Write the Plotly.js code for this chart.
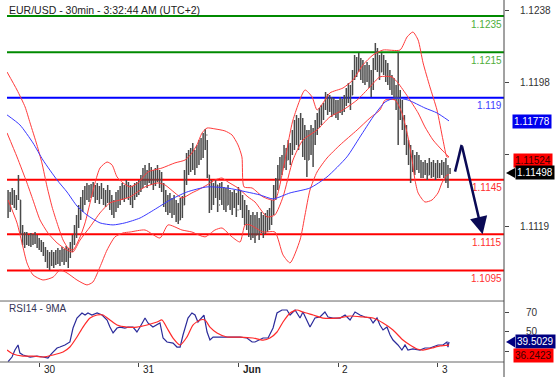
<!DOCTYPE html>
<html><head><meta charset="utf-8">
<script src="https://cdn.plot.ly/plotly-3.0.1.min.js"></script>
<style>html,body{margin:0;padding:0;background:#fff}</style>
</head><body><div id="chart" style="width:558px;height:377px"></div>
<script>
// ---- price bars (30 min), bar index = position ----
const high = [1.11421,1.11393,1.11382,1.11404,1.11393,1.11366,1.11476,1.11338,1.11201,1.11162,
1.11162,1.11146,1.11157,1.11151,1.11162,1.11146,1.11129,1.11118,1.11107,1.11080,
1.11063,1.11052,1.11063,1.11052,1.11063,1.11074,1.11063,1.11080,1.11069,1.11085,
1.11074,1.11107,1.11146,1.11201,1.11256,1.11311,1.11355,1.11393,1.11415,1.11432,
1.11421,1.11426,1.11437,1.11421,1.11432,1.11415,1.11432,1.11404,1.11393,1.11421,
1.11393,1.11366,1.11338,1.11382,1.11393,1.11415,1.11432,1.11421,1.11448,1.11437,
1.11421,1.11415,1.11432,1.11437,1.11448,1.11476,1.11514,1.11531,1.11503,1.11542,
1.11520,1.11503,1.11514,1.11531,1.11503,1.11492,1.11432,1.11393,1.11366,1.11377,
1.11349,1.11366,1.11338,1.11322,1.11349,1.11360,1.11503,1.11597,1.11613,1.11624,
1.11652,1.11613,1.11641,1.11668,1.11679,1.11707,1.11729,1.11668,1.11476,1.11448,
1.11432,1.11448,1.11421,1.11432,1.11437,1.11410,1.11404,1.11421,1.11393,1.11382,
1.11393,1.11377,1.11410,1.11393,1.11366,1.11338,1.11311,1.11283,1.11256,1.11272,
1.11256,1.11272,1.11239,1.11272,1.11256,1.11267,1.11283,1.11294,1.11338,1.11421,
1.11459,1.11531,1.11575,1.11586,1.11641,1.11624,1.11668,1.11652,1.11723,1.11778,
1.11806,1.11789,1.11817,1.11789,1.11751,1.11723,1.11723,1.11751,1.11734,1.11778,
1.11817,1.11844,1.11861,1.11872,1.11932,1.11921,1.11916,1.11905,1.11899,1.11888,
1.11888,1.11905,1.11894,1.11916,1.11954,1.11982,1.11971,1.12053,1.12136,1.12125,
1.12147,1.12119,1.12108,1.12081,1.12097,1.12081,1.12053,1.12119,1.12202,1.12174,
1.12136,1.12147,1.12136,1.12108,1.12092,1.12053,1.12026,1.12009,1.11971,1.12152,
1.11943,1.11888,1.11806,1.11751,1.11668,1.11641,1.11613,1.11586,1.11602,1.11586,
1.11558,1.11547,1.11558,1.11542,1.11569,1.11547,1.11558,1.11542,1.11558,1.11542,
1.11558,1.11547,1.11569,1.11531,1.11514];
const low = [1.11256,1.11239,1.11272,1.11311,1.11294,1.11283,1.11338,1.11146,1.11091,1.11074,
1.11091,1.11085,1.11080,1.11091,1.11096,1.11074,1.11063,1.11052,1.11030,1.10997,
1.10964,1.10953,1.10975,1.10964,1.10981,1.10986,1.10975,1.10997,1.10981,1.10997,
1.10964,1.11019,1.11052,1.11091,1.11129,1.11184,1.11228,1.11272,1.11311,1.11338,
1.11327,1.11349,1.11355,1.11322,1.11338,1.11316,1.11344,1.11311,1.11300,1.11322,
1.11283,1.11256,1.11239,1.11272,1.11294,1.11311,1.11338,1.11327,1.11349,1.11338,
1.11311,1.11294,1.11338,1.11355,1.11366,1.11382,1.11404,1.11421,1.11404,1.11432,
1.11421,1.11393,1.11415,1.11437,1.11404,1.11382,1.11300,1.11272,1.11256,1.11267,
1.11239,1.11256,1.11217,1.11206,1.11228,1.11239,1.11311,1.11421,1.11476,1.11492,
1.11503,1.11476,1.11514,1.11531,1.11558,1.11569,1.11613,1.11459,1.11267,1.11283,
1.11311,1.11349,1.11272,1.11338,1.11311,1.11283,1.11272,1.11311,1.11283,1.11256,
1.11294,1.11245,1.11311,1.11283,1.11239,1.11201,1.11173,1.11135,1.11118,1.11129,
1.11102,1.11146,1.11118,1.11157,1.11129,1.11151,1.11162,1.11173,1.11201,1.11256,
1.11338,1.11393,1.11448,1.11476,1.11514,1.11503,1.11558,1.11531,1.11586,1.11613,
1.11641,1.11613,1.11668,1.11575,1.11558,1.11465,1.11558,1.11586,1.11520,1.11641,
1.11696,1.11734,1.11751,1.11778,1.11833,1.11806,1.11822,1.11795,1.11806,1.11789,
1.11778,1.11817,1.11806,1.11822,1.11855,1.11872,1.11833,1.11916,1.11998,1.12015,
1.12042,1.11998,1.11982,1.11971,1.11987,1.11954,1.11905,1.11943,1.12053,1.12042,
1.11998,1.12042,1.12026,1.11987,1.11971,1.11943,1.11916,1.11888,1.11833,1.11641,
1.11778,1.11723,1.11641,1.11586,1.11531,1.11432,1.11492,1.11476,1.11503,1.11487,
1.11459,1.11459,1.11476,1.11448,1.11476,1.11459,1.11465,1.11448,1.11459,1.11459,
1.11476,1.11459,1.11432,1.11404,1.11481];
const open = [1.11338,1.11311,1.11338,1.11366,1.11338,1.11349,1.11360,1.11338,1.11173,1.11118,
1.11129,1.11118,1.11107,1.11129,1.11118,1.11135,1.11091,1.11102,1.11074,1.11063,
1.11019,1.10997,1.11019,1.10997,1.11030,1.11008,1.11036,1.11019,1.11052,1.11030,
1.11063,1.11052,1.11091,1.11129,1.11173,1.11228,1.11283,1.11338,1.11366,1.11393,
1.11382,1.11393,1.11404,1.11382,1.11366,1.11393,1.11360,1.11382,1.11349,1.11338,
1.11366,1.11311,1.11294,1.11283,1.11338,1.11349,1.11366,1.11393,1.11366,1.11404,
1.11382,1.11349,1.11366,1.11393,1.11404,1.11421,1.11448,1.11476,1.11459,1.11492,
1.11476,1.11459,1.11448,1.11476,1.11492,1.11448,1.11421,1.11338,1.11311,1.11283,
1.11322,1.11272,1.11294,1.11256,1.11228,1.11283,1.11311,1.11476,1.11558,1.11531,
1.11586,1.11558,1.11531,1.11613,1.11586,1.11641,1.11668,1.11696,1.11476,1.11311,
1.11393,1.11366,1.11421,1.11311,1.11393,1.11349,1.11338,1.11311,1.11366,1.11322,
1.11311,1.11349,1.11283,1.11366,1.11311,1.11272,1.11239,1.11201,1.11173,1.11162,
1.11201,1.11146,1.11201,1.11162,1.11217,1.11184,1.11228,1.11201,1.11256,1.11311,
1.11393,1.11437,1.11503,1.11547,1.11531,1.11613,1.11558,1.11641,1.11613,1.11696,
1.11734,1.11696,1.11751,1.11723,1.11613,1.11668,1.11558,1.11668,1.11696,1.11668,
1.11734,1.11778,1.11806,1.11833,1.11861,1.11916,1.11861,1.11888,1.11844,1.11861,
1.11822,1.11833,1.11872,1.11844,1.11888,1.11932,1.11954,1.11916,1.12026,1.12108,
1.12064,1.12108,1.12042,1.12009,1.12053,1.12026,1.11987,1.11971,1.12081,1.12163,
1.12108,1.12042,1.12097,1.12064,1.12026,1.11998,1.11971,1.11943,1.11916,1.11888,
1.11833,1.11806,1.11751,1.11679,1.11624,1.11569,1.11531,1.11558,1.11514,1.11558,
1.11531,1.11492,1.11514,1.11531,1.11476,1.11531,1.11503,1.11514,1.11476,1.11514,
1.11492,1.11525,1.11492,1.11459,1.11492];
const close = [1.11311,1.11338,1.11366,1.11338,1.11349,1.11360,1.11421,1.11173,1.11118,1.11129,
1.11118,1.11107,1.11129,1.11118,1.11135,1.11091,1.11102,1.11074,1.11063,1.11019,
1.10997,1.11019,1.10997,1.11030,1.11008,1.11036,1.11019,1.11052,1.11030,1.11063,
1.11052,1.11091,1.11129,1.11173,1.11228,1.11283,1.11338,1.11366,1.11393,1.11382,
1.11393,1.11404,1.11382,1.11366,1.11393,1.11360,1.11382,1.11349,1.11338,1.11366,
1.11311,1.11294,1.11283,1.11338,1.11349,1.11366,1.11393,1.11366,1.11404,1.11382,
1.11349,1.11366,1.11393,1.11404,1.11421,1.11448,1.11476,1.11459,1.11492,1.11476,
1.11459,1.11448,1.11476,1.11492,1.11448,1.11421,1.11338,1.11311,1.11283,1.11322,
1.11272,1.11294,1.11256,1.11228,1.11283,1.11311,1.11476,1.11558,1.11531,1.11586,
1.11558,1.11531,1.11613,1.11586,1.11641,1.11668,1.11696,1.11476,1.11311,1.11393,
1.11366,1.11421,1.11311,1.11393,1.11349,1.11338,1.11311,1.11366,1.11322,1.11311,
1.11349,1.11283,1.11366,1.11311,1.11272,1.11239,1.11201,1.11173,1.11162,1.11201,
1.11146,1.11201,1.11162,1.11217,1.11184,1.11228,1.11201,1.11256,1.11311,1.11393,
1.11437,1.11503,1.11547,1.11531,1.11613,1.11558,1.11641,1.11613,1.11696,1.11734,
1.11696,1.11751,1.11723,1.11613,1.11668,1.11558,1.11668,1.11696,1.11668,1.11734,
1.11778,1.11806,1.11833,1.11861,1.11916,1.11861,1.11888,1.11844,1.11861,1.11822,
1.11833,1.11872,1.11844,1.11888,1.11932,1.11954,1.11916,1.12026,1.12108,1.12064,
1.12108,1.12042,1.12009,1.12053,1.12026,1.11987,1.11971,1.12081,1.12163,1.12108,
1.12042,1.12097,1.12064,1.12026,1.11998,1.11971,1.11943,1.11916,1.11888,1.11833,
1.11806,1.11751,1.11679,1.11624,1.11569,1.11531,1.11558,1.11514,1.11558,1.11531,
1.11492,1.11514,1.11531,1.11476,1.11531,1.11503,1.11514,1.11476,1.11514,1.11492,
1.11525,1.11492,1.11459,1.11492,1.11498];

// ---- Bollinger bands and moving average (sampled along the bar index) ----
const bbUpperX = [0.5,5.3,9.2,11.6,14.9,17.3,19.8,22.2,24.6,27.5,29.9,32.3,35.7,38.1,40.5,42.9,45.3,48.7,51.1,53.5,56.4,59.8,63.6,68.4,75.2,81.4,86.3,89.6,92,94.5,96.9,100.7,105.5,108.9,111.8,113.7,114.7,118.6,123.9,129.6,133.5,138.3,144.1,147.5,149.9,152.8,156.1,162.4,167.2,172,176.9,181.7,189.9,193.3,196.1,198.6,201,204.3,207.7,210.6,212.5,213.5];
const bbUpper = [1.12042,1.11943,1.11850,1.11762,1.11641,1.11542,1.11410,1.11300,1.11212,1.11118,1.11074,1.11063,1.11135,1.11212,1.11322,1.11432,1.11514,1.11547,1.11531,1.11465,1.11432,1.11410,1.11432,1.11492,1.11514,1.11542,1.11558,1.11597,1.11641,1.11707,1.11734,1.11729,1.11718,1.11696,1.11641,1.11575,1.11410,1.11404,1.11355,1.11338,1.11503,1.11778,1.11943,1.11905,1.11833,1.11872,1.11927,1.11954,1.11998,1.12081,1.12136,1.12163,1.12163,1.12235,1.12262,1.12218,1.12092,1.11960,1.11833,1.11668,1.11575,1.11575];
const bbMidX = [0.5,5.3,10.1,13,16.4,20.2,24.6,29.4,32.3,35.7,40.5,45.3,50.1,54.9,59.8,67,73.3,76.6,81.4,84.8,89.6,92.5,96.9,100.7,104.1,107,111.8,116.6,120,125.8,129.6,133.5,138.3,143.1,149.9,156.1,162.4,169.2,175.4,180.2,186,188.9,193.7,198.6,201.9,205.8,210.1,213.5];
const bbMid = [1.11707,1.11575,1.11432,1.11338,1.11228,1.11157,1.11102,1.11063,1.11052,1.11118,1.11190,1.11267,1.11322,1.11338,1.11355,1.11410,1.11432,1.11421,1.11377,1.11349,1.11377,1.11393,1.11421,1.11448,1.11459,1.11437,1.11404,1.11355,1.11327,1.11245,1.11256,1.11355,1.11558,1.11668,1.11723,1.11795,1.11833,1.11888,1.11960,1.12015,1.12015,1.11982,1.11905,1.11817,1.11740,1.11668,1.11613,1.11575];
const bbLowerX = [1,5.3,7.7,10.1,13,17.8,22.7,26,29.4,34.2,39,41.9,45.3,48.7,52.5,56.4,59.8,67,74.2,78.1,84.8,89.6,95.9,100.7,104.1,108.9,112.8,115.2,117.6,123.9,129.6,133.5,136.9,141.7,144.1,146.5,149.9,154.7,161,169.2,175.4,180.2,182.7,187.5,190.8,193.7,195.7,197.1,198.6,201.9,205.3,208.2,210.1,212.5,213.5];
const bbLower = [1.11338,1.11212,1.11102,1.10992,1.10926,1.10898,1.10914,1.10953,1.10937,1.10898,1.10871,1.10887,1.10970,1.11063,1.11135,1.11157,1.11162,1.11173,1.11129,1.11201,1.11173,1.11162,1.11135,1.11173,1.11184,1.11135,1.11107,1.11201,1.11201,1.11162,1.11162,1.11036,1.10992,1.11118,1.11256,1.11393,1.11492,1.11569,1.11641,1.11723,1.11789,1.11833,1.11888,1.11888,1.11817,1.11685,1.11558,1.11448,1.11377,1.11327,1.11338,1.11377,1.11432,1.11476,1.11476];
const maX = [0.5,6.7,13,17.8,24.6,29.4,34.2,39,45.3,51.6,57.3,64.6,72.8,79,87.2,96.9,106.5,116.1,122.4,128.7,136.9,146.5,154.7,164.3,170.6,176.9,182.7,187.5,193.7,201.9,207.7,213.5];
const ma = [1.11806,1.11751,1.11652,1.11558,1.11448,1.11382,1.11305,1.11256,1.11212,1.11201,1.11212,1.11239,1.11294,1.11338,1.11382,1.11410,1.11404,1.11382,1.11366,1.11344,1.11377,1.11404,1.11465,1.11575,1.11685,1.11795,1.11877,1.11899,1.11888,1.11844,1.11817,1.11773];

// ---- RSI(14) and its 9-period MA ----
const rsiX = [1,2.9,4.3,5.8,6.7,8.2,11.6,14.9,17.8,20.2,22.2,24.6,26,28.4,30.8,32.3,34.2,36.6,38.1,39.5,41.4,43.9,46.3,48.7,50.1,51.6,53.5,54.9,57.3,58.8,61.2,63.1,64.6,67,68.4,70.8,74.2,75.7,77.6,80.5,82.4,83.9,85.3,86.3,87.7,89.6,91.1,92.5,94.5,95.4,96.9,98.3,99.8,103.1,106.5,109.4,112.8,116.1,118.6,120,123.9,126.3,128.7,130.6,133,135.4,136.9,139.3,141.7,143.1,145.1,146.5,148.9,151.3,153.7,155.2,157.6,161,163.4,165.8,168.2,170.6,173,175.4,176.9,178.8,180.2,181.7,183.6,185.1,186.5,188.9,190.8,192.3,193.7,196.1,199.5,201.9,204.3,205.8,208.2,210.6,212.5,213,213.5];
const rsi = [19.1,23.9,31.1,36.3,28.0,26.0,23.9,24.9,23.9,22.9,28.0,33.2,34.2,36.3,39.4,53.8,64.1,69.3,67.2,69.3,67.2,69.3,67.2,62.1,54.8,48.7,53.8,54.8,53.8,54.8,54.8,49.7,54.8,64.1,59.0,54.8,59.0,43.5,39.4,38.3,34.2,34.2,46.6,53.8,64.1,69.3,67.2,60.0,65.2,67.2,49.7,41.4,44.5,44.5,44.5,44.5,44.5,43.5,39.4,39.4,43.5,43.5,53.8,69.3,72.4,72.4,67.2,72.4,64.1,70.3,62.1,54.8,64.1,65.2,70.3,65.2,64.1,64.1,67.2,62.1,70.3,67.2,65.2,64.1,59.0,64.1,56.9,51.8,54.8,46.6,41.4,36.3,31.1,36.3,31.1,32.2,31.1,33.2,33.2,34.2,36.3,36.3,39.4,34.2,39.5];
const rsiMaX = [0.5,3.4,8.2,13,17.8,22.7,27.5,30.8,34.2,37.1,40.5,43.9,46.7,50.1,53.5,58.3,63.1,68,72.8,75.2,77.6,80.5,83.9,87.2,90.1,93.5,95.9,98.3,101.7,106.5,112.8,119,123.9,127.2,130.6,133.5,136.9,140.2,143.1,148,152.8,159.5,165.8,172,176.9,181.7,186.5,191.3,194.7,198.1,201,205.3,209.2,213.5];
const rsiMa = [31.1,27.0,24.9,24.9,23.9,26.0,29.1,34.2,44.5,54.8,64.1,67.2,67.2,62.1,56.9,54.8,54.8,56.9,60.0,62.1,53.8,43.5,36.3,44.5,56.9,62.1,62.1,54.8,48.7,44.5,44.5,43.5,41.4,43.5,49.7,60.0,69.3,72.4,70.3,67.2,64.1,64.1,66.2,65.2,64.1,59.0,51.8,41.4,36.3,32.2,31.1,33.2,35.3,36.24];

// ---- levels, axis ticks, labels ----
const levels = [1.1235, 1.1215, 1.119, 1.1145, 1.1115, 1.1095];
const levelLabels = ['1.1235','1.1215','1.119','1.1145','1.1115','1.1095'];
const levelColors = ['#008a00','#008a00','#0000ff','#ff0000','#ff0000','#ff0000'];
const levelTextColors = ['#4fae3a','#4fae3a','#3c3cff','#ff3030','#ff3030','#ff3030'];
const priceTicks = [1.1238, 1.11985, 1.1159, 1.11195];
const priceTickText = ['1.1238','1.1198','','1.1119'];
const rsiTicks = [30, 50, 70];
const rsiTickText = ['', '50', '70'];
const dayTicks = [16, 64, 112, 160, 208];
const dayLabels = ['30','31','<b>Jun</b>','2','3'];
const lastPrice = 1.11498, lastUpper = 1.11524, lastMa = 1.11778;
const lastRsi = 39.5029, lastRsiMa = 36.2423;
const forecastX = [216.4, 219.6, 229.7];
const forecastY = [1.11494, 1.11641, 1.1115];

const barIdx = high.map((_, i) => i);
const FONT = 'Liberation Sans, Arial, sans-serif';
const PW = 497; // plot width in px

const traces = [
  {type:'scatter', mode:'lines', x:bbUpperX, y:bbUpper, line:{color:'#ff3b3b', width:1, shape:'spline', smoothing:0.6}, hoverinfo:'skip'},
  {type:'scatter', mode:'lines', x:bbLowerX, y:bbLower, line:{color:'#ff3b3b', width:1, shape:'spline', smoothing:0.6}, hoverinfo:'skip'},
  {type:'scatter', mode:'lines', x:bbMidX, y:bbMid, line:{color:'#ff3b3b', width:1, shape:'spline', smoothing:0.6}, hoverinfo:'skip'},
  {type:'scatter', mode:'lines', x:maX, y:ma, line:{color:'#3a3aff', width:1, shape:'spline', smoothing:0.6}, hoverinfo:'skip'},
  {type:'ohlc', x:barIdx, open:open, high:high, low:low, close:close,
   increasing:{line:{color:'#4a4a4a', width:1.5}}, decreasing:{line:{color:'#4a4a4a', width:1.5}},
   tickwidth:0.35, hoverinfo:'skip'},
  {type:'scatter', mode:'lines', x:forecastX.slice(0,2), y:forecastY.slice(0,2), line:{color:'#0a0a55', width:2.5}, hoverinfo:'skip'},
  {type:'scatter', mode:'lines', x:rsiX, y:rsi, yaxis:'y2', line:{color:'#2b2b9a', width:1.2}, hoverinfo:'skip'},
  {type:'scatter', mode:'lines', x:rsiMaX, y:rsiMa, yaxis:'y2', line:{color:'#ff2a2a', width:1.2, shape:'spline', smoothing:0.6}, hoverinfo:'skip'}
];

const shapes = [];
levels.forEach((v, k) => shapes.push({type:'line', xref:'paper', x0:0, x1:1, yref:'y', y0:v, y1:v, line:{color:levelColors[k], width:2}, layer:'below'}));
// panel frame lines
shapes.push({type:'line', xref:'paper', x0:-7/PW, x1:1, yref:'paper', y0:0.1694, y1:0.1694, line:{color:'#666', width:1}});
shapes.push({type:'line', xref:'paper', x0:-7/PW, x1:1, yref:'paper', y0:0, y1:0, line:{color:'#666', width:1}});
shapes.push({type:'line', xref:'paper', x0:1, x1:1, yref:'paper', y0:-0.05, y1:1.01, line:{color:'#444', width:1}});
// pointer triangles of the current-value tags
shapes.push({type:'path', xref:'paper', yref:'y', xsizemode:'pixel', ysizemode:'pixel', xanchor:1, yanchor:lastPrice, path:'M 2 -2 L 11 -7 L 11 3 Z', fillcolor:'#000', line:{width:0}});
shapes.push({type:'path', xref:'paper', yref:'y2', xsizemode:'pixel', ysizemode:'pixel', xanchor:1, yanchor:lastRsi, path:'M 2 0 L 11 -5.5 L 11 5.5 Z', fillcolor:'#000080', line:{width:0}});

const annotations = [];
annotations.push({xref:'paper', yref:'paper', x:0, y:0.978, xanchor:'left', yanchor:'middle', showarrow:false,
  text:'EUR/USD - 30min - 3:32:44 AM (UTC+2)', font:{family:FONT, size:10.5, color:'#222'}});
annotations.push({xref:'paper', yref:'paper', x:0, y:0.148, xanchor:'left', yanchor:'middle', showarrow:false,
  text:'RSI14 - 9MA', font:{family:FONT, size:10, color:'#333355'}});
levels.forEach((v, k) => annotations.push({xref:'paper', x:1, xanchor:'right', yref:'y', y:v, yanchor:'middle', yshift:-8,
  showarrow:false, text:levelLabels[k], font:{family:FONT, size:10, color:levelTextColors[k]}}));
dayTicks.forEach((t, k) => annotations.push({xref:'x', x:t + 1.2, xanchor:'left', yref:'paper', y:-0.022, yanchor:'middle',
  showarrow:false, text:dayLabels[k], font:{family:FONT, size:10, color:'#222'}}));
function tag(val, yref, bg, fg, xpx, yshift) {
  annotations.push({xref:'paper', x:1 + xpx/PW, xanchor:'left', yref:yref, y:val, yanchor:'middle', yshift:yshift||0,
    showarrow:false, text:String(val.toFixed(yref === 'y' ? 5 : 4)), bgcolor:bg, borderpad:1,
    font:{family:FONT, size:10, color:fg}});
}
tag(lastMa, 'y', '#0000ee', '#ffffff', 8, -1);
tag(lastUpper, 'y', '#ff0000', '#3a0000', 9, 6);
tag(lastPrice, 'y', '#000000', '#ffffff', 11, -2);
tag(lastRsi, 'y2', '#000080', '#ffffff', 11, 0);
tag(lastRsiMa, 'y2', '#ff0000', '#3a0000', 9, -10);
// forecast arrow head
annotations.push({xref:'x', yref:'y', axref:'x', ayref:'y', x:forecastX[2], y:forecastY[2], ax:forecastX[1], ay:forecastY[1],
  showarrow:true, arrowhead:2, arrowsize:1.4, arrowwidth:2.5, arrowcolor:'#0a0a55', text:''});

const layout = {
  width:558, height:377, margin:{l:7, r:54, t:2, b:15},
  paper_bgcolor:'#fff', plot_bgcolor:'#fff', showlegend:false, dragmode:false,
  xaxis:{range:[0.48, 240], anchor:'y2', showgrid:false, zeroline:false, showline:false,
    tickvals:dayTicks, ticktext:dayTicks.map(()=>''), ticks:'outside', ticklen:4, tickcolor:'#444',
    rangeslider:{visible:false}, fixedrange:true},
  yaxis:{domain:[0.2, 1], range:[1.10843, 1.12427], side:'right', showgrid:false, zeroline:false, showline:false,
    tickvals:priceTicks, ticktext:priceTickText, ticks:'outside', ticklen:4, tickcolor:'#444', ticklabelstandoff:9,
    tickfont:{family:FONT, size:10, color:'#333'}, fixedrange:true},
  yaxis2:{domain:[0, 0.1694], range:[18.76, 81.65], side:'right', showgrid:false, zeroline:false, showline:false,
    tickvals:rsiTicks, ticktext:rsiTickText, ticks:'outside', ticklen:4, tickcolor:'#444', ticklabelstandoff:15,
    tickfont:{family:FONT, size:10, color:'#333'}, fixedrange:true},
  shapes:shapes, annotations:annotations
};
Plotly.newPlot('chart', traces, layout, {displayModeBar:false, staticPlot:true});
</script></body></html>
